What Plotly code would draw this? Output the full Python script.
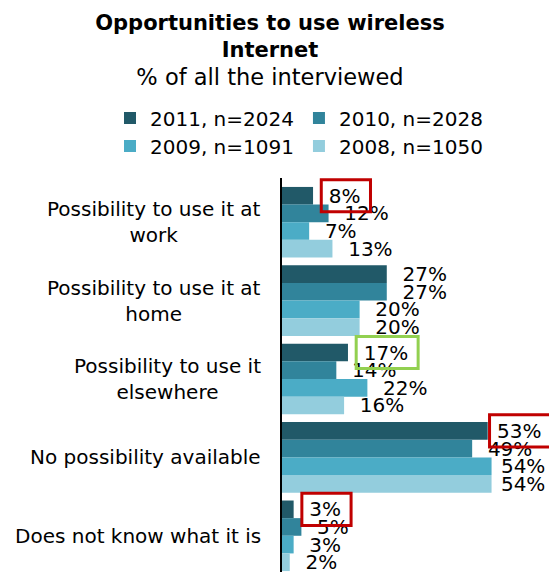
import plotly.graph_objects as go

categories = [
    "Possibility to use it at<br>work",
    "Possibility to use it at<br>home",
    "Possibility to use it<br>elsewhere",
    "No possibility available",
    "Does not know what it is",
]
series_names = ["2011, n=2024", "2010, n=2028", "2009, n=1091", "2008, n=1050"]
values_2011 = [8, 27, 17, 53, 3]
values_2010 = [12, 27, 14, 49, 5]
values_2009 = [7, 20, 22, 54, 3]
values_2008 = [13, 20, 16, 54, 2]
series_values = [values_2011, values_2010, values_2009, values_2008]
colors = ["#215968", "#31849b", "#4bacc6", "#93cddd"]

# highlighted labels: (category index, series index, border colour)
highlights = [(0, 0, "#c00000"), (2, 0, "#92d050"), (3, 0, "#c00000"), (4, 0, "#c00000")]

FONT = "DejaVu Sans"
BARGAP = 0.1
XMAX = 68.8
PLOT_W = 549 - 282
PX = PLOT_W / XMAX          # pixels per percentage point
LABEL_SIZE = 20
NBSP = "\u00a0"


def pad_count(v):
    # Excel-like: labels near the right edge are nudged closer to the bar
    return 2 if v < 52 else 1


fig = go.Figure()
idx = list(range(len(categories)))
for i, (name, vals, col) in enumerate(zip(series_names, series_values, colors)):
    fig.add_trace(go.Bar(
        y=idx, x=vals, name=name, orientation="h",
        marker=dict(color=col, line=dict(width=0)),
        text=[NBSP * pad_count(v) + f"{v}%" for v in vals],
        textposition="outside", constraintext="none", cliponaxis=False,
        textfont=dict(family=FONT, size=LABEL_SIZE, color="#000000"),
        legend="legend" if i < 2 else "legend2",
        hoverinfo="skip",
    ))

# category labels (centered multi-line, right aligned block)
for k, c in enumerate(categories):
    fig.add_annotation(
        x=0, xref="paper", y=k, yref="y", text=c, showarrow=False,
        xanchor="right", yanchor="middle", align="center", xshift=-19,
        font=dict(family=FONT, size=20, color="#000000"),
    )

# highlight boxes around selected value labels
bar_w = (1 - BARGAP) / len(series_names)
for (ci, si, col) in highlights:
    v = series_values[si][ci]
    yc = ci - (1 - BARGAP) / 2 + (si + 0.5) * bar_w
    start = v + (3 + pad_count(v) * 0.318 * LABEL_SIZE) / PX
    tw = (len(str(v)) * 0.636 + 0.95) * LABEL_SIZE
    fig.add_shape(
        type="rect", xref="x", yref="y",
        x0=start - 7.5 / PX, x1=start + (tw + 10) / PX,
        y0=yc - 0.205, y1=yc + 0.205,
        line=dict(color=col, width=3), fillcolor="rgba(0,0,0,0)",
    )

leg_x = (110 - 282) / PLOT_W
fig.update_layout(
    width=549, height=572,
    margin=dict(l=282, r=0, t=178, b=0),
    paper_bgcolor="white", plot_bgcolor="white",
    barmode="group", bargap=BARGAP, bargroupgap=0,
    font=dict(family=FONT, color="#000000"),
    title=dict(
        text="<b>Opportunities to use wireless<br>Internet</b><br>"
             "<span style='font-size:22.5px'>% of all the interviewed</span>",
        x=270 / 549, xanchor="center", xref="container",
        y=1 - 30 / 572, yanchor="top", yref="container",
        font=dict(family=FONT, size=21, color="#000000"),
    ),
    legend=dict(
        orientation="h", xref="paper", yref="paper",
        x=leg_x, xanchor="left", y=1 + (178 - 118) / 394, yanchor="middle",
        font=dict(family=FONT, size=20, color="#000000"),
        traceorder="normal", bgcolor="rgba(0,0,0,0)",
    ),
    legend2=dict(
        orientation="h", xref="paper", yref="paper",
        x=leg_x, xanchor="left", y=1 + (178 - 146) / 394, yanchor="middle",
        font=dict(family=FONT, size=20, color="#000000"),
        traceorder="normal", bgcolor="rgba(0,0,0,0)",
    ),
    showlegend=True,
    xaxis=dict(range=[0, XMAX], visible=False, showgrid=False, zeroline=False),
    yaxis=dict(
        range=[4.462, -0.564], showticklabels=False, showgrid=False, zeroline=False,
        showline=True, linecolor="#000000", linewidth=1.5, ticks="",
    ),
)

fig.write_html("out.html")
